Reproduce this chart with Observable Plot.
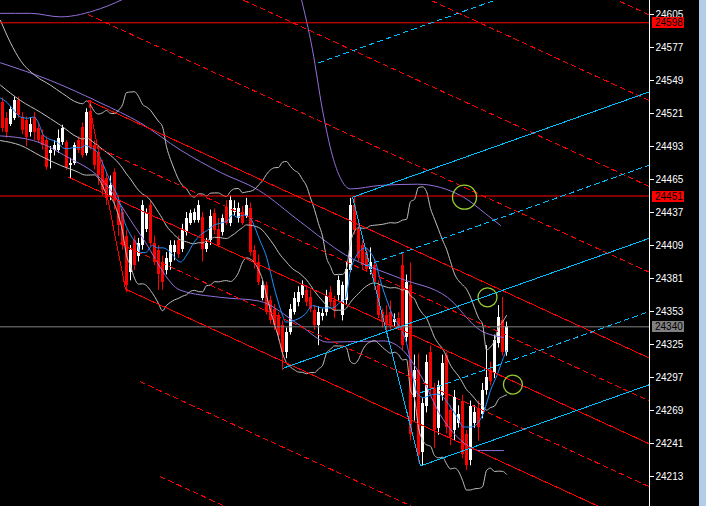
<!DOCTYPE html>
<html><head><meta charset="utf-8">
<script src="https://cdn.jsdelivr.net/npm/d3@7"></script>
<script src="https://cdn.jsdelivr.net/npm/@observablehq/plot@0.6"></script>
<style>
html,body{margin:0;padding:0;background:#b3cde8;overflow:hidden;}
#chart{width:699px;height:506px;}
#chart svg{display:block;}
</style></head><body><div id="chart"></div>
<script>
// ---- OHLC bars (bar index 0..126, left to right) ----
const opens=[24530,24517,24512,24517,24532,24518,24515,24505,24518,24508,
24502,24498,24487,24490,24490,24496,24496,24477,24479,24498,
24509,24487,24523,24494,24488,24477,24466,24451,24471,24447,
24437,24417,24386,24413,24400,24409,24423,24443,24411,24405,
24395,24388,24395,24403,24413,24406,24420,24428,24430,24430,
24433,24406,24413,24436,24423,24420,24441,24428,24437,24432,
24437,24434,24440,24405,24395,24364,24375,24362,24355,24350,
24341,24318,24335,24352,24361,24367,24371,24365,24354,24341,
24349,24352,24369,24362,24367,24350,24362,24388,24443,24423,
24409,24403,24389,24392,24375,24352,24350,24352,24344,24347,
24392,24331,24375,24280,24303,24233,24272,24318,24288,24254,
24282,24316,24269,24252,24258,24277,24249,24227,24258,24271,
24266,24286,24303,24300,24326,24345,24318];
const highs=[24534,24522,24527,24535,24535,24522,24518,24517,24522,24512,
24507,24501,24493,24498,24507,24511,24498,24483,24496,24501,
24513,24525,24532,24498,24494,24481,24471,24468,24474,24451,
24440,24422,24409,24417,24415,24447,24440,24447,24417,24409,
24400,24403,24413,24413,24417,24427,24437,24439,24440,24447,
24437,24415,24439,24440,24432,24435,24447,24451,24447,24445,
24442,24449,24445,24409,24401,24379,24378,24366,24359,24352,
24345,24339,24359,24369,24374,24379,24375,24371,24358,24357,
24355,24371,24374,24366,24383,24378,24395,24449,24450,24428,
24413,24406,24407,24396,24379,24355,24358,24362,24351,24352,
24402,24384,24394,24316,24317,24279,24316,24324,24292,24294,
24316,24318,24273,24286,24273,24282,24252,24277,24273,24277,
24292,24324,24310,24333,24358,24365,24344];
const lows=[24505,24500,24510,24515,24517,24503,24493,24501,24498,24496,
24490,24473,24474,24485,24487,24494,24473,24466,24477,24487,
24483,24485,24490,24473,24460,24451,24443,24447,24439,24417,
24405,24369,24379,24388,24395,24405,24420,24408,24392,24371,
24371,24384,24388,24396,24398,24403,24417,24426,24428,24428,
24395,24403,24409,24418,24407,24417,24426,24425,24434,24428,
24426,24432,24400,24389,24375,24362,24350,24342,24337,24328,
24303,24313,24333,24350,24357,24364,24357,24352,24337,24324,
24345,24349,24357,24347,24362,24345,24358,24386,24418,24395,
24388,24386,24384,24371,24347,24339,24337,24337,24340,24337,
24320,24327,24243,24260,24225,24222,24267,24282,24237,24248,
24277,24249,24239,24243,24254,24228,24218,24222,24254,24243,
24262,24282,24290,24296,24322,24315,24315];
const closes=[24508,24505,24524,24532,24519,24507,24501,24512,24505,24498,
24494,24475,24490,24494,24500,24508,24475,24479,24494,24490,
24485,24522,24491,24477,24468,24456,24449,24460,24446,24426,
24409,24375,24405,24392,24411,24443,24436,24411,24395,24384,
24378,24398,24409,24409,24401,24423,24432,24436,24437,24443,
24406,24411,24434,24422,24409,24432,24428,24447,24440,24440,
24428,24443,24403,24395,24378,24375,24352,24345,24341,24333,
24318,24335,24355,24364,24369,24375,24361,24355,24341,24352,
24351,24366,24361,24354,24379,24375,24389,24443,24422,24398,
24392,24389,24395,24378,24350,24344,24341,24340,24346,24339,
24324,24378,24249,24303,24231,24275,24310,24288,24252,24290,
24309,24255,24246,24280,24266,24232,24222,24272,24267,24255,
24286,24297,24294,24328,24348,24318,24340];

// ---- price axis ----
const yTicks=[24213,24241,24269,24297,24325,24353,24381,24409,24437,24465,24493,24521,24549,24577,24605];
const hLines=[24598,24451];          // red horizontal lines
const bidPrice=24340;                // last price line

// ---- fast moving average [bar index, price] ----
const maFast=[[-0.5,24534],[1.25,24530],[2.75,24524],[4.5,24518],[6.25,24517],[7.75,24518],[9,24513],[10,24504],[11.25,24500],[12.75,24498],[14,24496],[15,24492],[16.25,24491],[17.5,24492],[19.5,24492],[20.75,24494],[22,24492],[23.75,24488],[25.25,24477],[27,24463],[28.75,24451],[29.5,24443],[30.25,24432],[32,24418],[33.75,24409],[34.5,24403],[35.75,24403],[37.5,24409],[38.75,24407],[40.25,24407],[42,24403],[44.5,24395],[46.25,24402],[47.75,24411],[49.5,24418],[51.25,24422],[52.75,24426],[54.5,24428],[56.25,24430],[57.5,24435],[58.75,24433],[60.25,24435],[62,24432],[63.25,24423],[64.5,24412],[65.75,24402],[68.25,24369],[70,24350],[70.75,24344],[72.5,24345],[75.75,24351],[77.5,24358],[80,24356],[82.5,24356],[84.5,24361],[85.75,24364],[87,24388],[88.25,24399],[89.5,24405],[90.75,24407],[92,24403],[93.25,24395],[94.5,24379],[96.25,24361],[97.75,24348],[99.5,24339],[101.25,24323],[102.75,24295],[103.75,24283],[105.25,24280],[107,24282],[108.75,24283],[110.25,24280],[112,24272],[113.75,24263],[115.25,24255],[117,24255],[118.75,24258],[120.25,24267],[122,24286],[123.75,24300],[125.25,24314],[126,24320]];

// ---- Bollinger(20,2) on closes; its first bars (history off-chart) ----
const bbPeriod=20, bbMult=2;
const bbUpEarly=[[-0.5,24600],[2,24581],[4.5,24566],[8.25,24553],[12,24545],[15,24538]];
const bbMidEarly=[[-0.5,24545],[4.5,24532],[9.5,24522],[14.5,24511]];
const bbLowEarly=[[-0.5,24498],[4.5,24494],[9.5,24485],[14.5,24477]];

// ---- slow envelope (purple) ----
const slowTop=[[-0.5,24606],[7,24606],[14.5,24603],[24.5,24610],[32,24621]];
const slowUp=[[74.5,24621],[77.5,24575],[80,24524],[82.5,24485],[84.5,24466],[87,24457],[94.5,24460],[103.75,24461],[115.25,24450],[120.75,24436],[124.5,24426]];
const slowMid=[[-0.5,24564],[12,24549],[24.5,24530],[34.5,24513],[44.5,24490],[54.5,24471],[64,24456],[74.5,24429],[85.75,24401],[99.5,24381],[111.25,24365],[119.5,24337],[125.25,24331]];
const slowLow=[[-0.5,24502],[7.75,24498],[16.25,24484],[24.5,24466],[34.5,24418],[44.5,24371],[54.5,24365],[64,24362],[74.5,24341],[81.25,24327],[95.25,24328],[99.5,24322],[104.5,24299],[109.5,24265],[114.5,24244],[119.5,24235],[125.25,24235]];

// ---- pitchfork anchors [bar index, price] and levels [level, start bar, dashed] ----
const redFork={A:[16.5,24467],B:[21.5,24532],C:[30.75,24372]};
const redLevels=[[0,16.5,false],[1,21.5,false],[-1,30.75,false],[0.5,24.5,true],[-0.5,29.5,true],[2,21.5,true],[3,21.5,true],[4,21.5,true],[5,21.5,true],[-2,34.5,true],[-3,39.5,true]];
const blueFork={A:[70.25,24305],B:[87.5,24450],C:[104.5,24222]};
const blueLevels=[[0,70.25,false],[1,87.5,false],[-1,104.5,false],[0.5,90.75,true],[-0.5,104.5,true],[2,79,true]];
const bigMark=[[115.5,24450]];                       // green circles
const smallMarks=[[121.25,24365],[127.6,24291]];

// ------------------------------------------------------------
const xMax=161.75, N=closes.length;
const bars=closes.map((c,i)=>({i,o:opens[i],h:highs[i],l:lows[i],c,up:c>=opens[i]}));

const bb=[];
for(let i=bbPeriod-1;i<N;i++){
  const w=closes.slice(i-bbPeriod+1,i+1), m=d3.mean(w);
  const sd=Math.sqrt(d3.mean(w,v=>(v-m)**2));
  bb.push({i,m,up:m+bbMult*sd,lo:m-bbMult*sd});
}
const bbUp=[...bbUpEarly,...bb.map(d=>[d.i,d.up])];
const bbMid=[...bbMidEarly,...bb.map(d=>[d.i,d.m])];
const bbLow=[...bbLowEarly,...bb.map(d=>[d.i,d.lo])];

function fork(F,levels){
  const [Ai,Ap]=F.A,[Bi,Bp]=F.B,[Ci,Cp]=F.C;
  const Mi=(Bi+Ci)/2,Mp=(Bp+Cp)/2;
  const s=(Mp-Ap)/(Mi-Ai);
  const D=Bp-(Mp+s*(Bi-Mi));
  const f=(i,L)=>Mp+s*(i-Mi)+L*D;
  return levels.map(([L,start,dash])=>({dash,pts:[[start,f(start,L)],[xMax,f(xMax,L)]]}));
}
const RED="#ff0000",CYAN="#00bfff",GRAY="#c0c0c0",PURPLE="#9370db",FONT="Liberation Sans Narrow, Liberation Sans, sans-serif";
const lineOpts=(stroke,dash)=>({x:d=>d[0],y:d=>d[1],stroke,strokeWidth:1,strokeDasharray:dash?"5,4":null,clip:true,shapeRendering:"crispEdges"});
const forkMarks=(F,levels,color)=>[
  ...fork(F,levels).map(l=>Plot.line(l.pts,lineOpts(color,l.dash))),
  Plot.line([F.B,F.C],lineOpts(color,false))
];
const curve=(data,stroke)=>Plot.line(data,{x:d=>d[0],y:d=>d[1],stroke,strokeWidth:1,curve:"monotone-x",clip:true});

const plot=Plot.plot({
  width:699,height:506,
  marginLeft:0,marginRight:50,marginTop:0,marginBottom:0,
  x:{domain:[-0.5,xMax],axis:null},
  y:{domain:[24187.55,24616.88],axis:null},
  style:{background:"#000",color:"#fff"},
  marks:[
    Plot.ruleX(bars,{x:"i",y1:"l",y2:"h",stroke:d=>d.up?"#fff":RED}),
    Plot.rect(bars,{x1:d=>d.i-0.375,x2:d=>d.i+0.375,y1:"o",y2:"c",fill:d=>d.up?"#fff":RED,shapeRendering:"crispEdges"}),
    curve(slowTop,PURPLE),
    curve(slowUp,PURPLE),
    curve(slowMid,PURPLE),
    curve(slowLow,PURPLE),
    curve(bbUp,GRAY),
    curve(bbMid,GRAY),
    curve(bbLow,GRAY),
    curve(maFast,"#1e90ff"),
    Plot.ruleY(hLines,{stroke:RED}),
    Plot.ruleY([bidPrice],{stroke:"#808080"}),
    ...forkMarks(redFork,redLevels,RED),
    ...forkMarks(blueFork,blueLevels,CYAN),
    Plot.dot(bigMark,{x:d=>d[0],y:d=>d[1],r:12,stroke:"#9acd32",fill:"none",strokeWidth:1.3,clip:true}),
    Plot.dot(smallMarks,{x:d=>d[0],y:d=>d[1],r:9.5,stroke:"#9acd32",fill:"none",strokeWidth:1.3,clip:true}),
    Plot.ruleX([xMax],{stroke:"#fff"}),
    Plot.axisY(yTicks,{anchor:"right",tickSize:4,tickPadding:2,tickFormat:d=>String(d),stroke:"#fff",fill:"#fff",fontSize:10,fontFamily:FONT})
  ]
});
document.getElementById("chart").appendChild(plot);

// price tags on the axis
const ys=plot.scale("y");
const svg=d3.select(plot);
const tags=[[hLines[0],RED,"#000"],[hLines[1],RED,"#000"],[bidPrice,"#808080","#000"]];
const g=svg.append("g").attr("font-family",FONT).attr("font-size",10).attr("text-anchor","start");
for(const [v,bg,fg] of tags){
  const y=ys.apply(v);
  g.append("rect").attr("x",652).attr("y",Math.round(y)-5).attr("width",32).attr("height",11).attr("fill",bg);
  g.append("text").attr("x",655).attr("y",Math.round(y)+0.5).attr("dy","0.36em").attr("fill",fg).text(String(v));
}
</script>
</body></html>
